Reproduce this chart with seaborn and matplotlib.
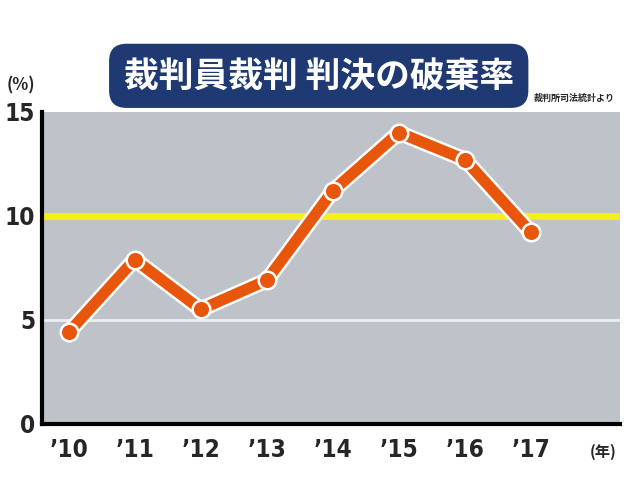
import matplotlib
matplotlib.use("Agg")
import matplotlib.pyplot as plt
import matplotlib.patheffects as pe
import seaborn as sns
import pandas as pd

years = ["’10", "’11", "’12", "’13", "’14", "’15", "’16", "’17"]
rates = [4.4, 7.9, 5.5, 6.9, 11.2, 14.0, 12.7, 9.2]
yticks = [0, 5, 10, 15]
title = "裁判員裁判 判決の破棄率"
source = "裁判所司法統計より"

sns.set_theme(style="white")
plt.rcParams["font.family"] = ["Noto Sans CJK JP", "DejaVu Sans"]

num_font = "DejaVu Sans"

df = pd.DataFrame({"x": range(len(years)), "rate": rates})

fig = plt.figure(figsize=(6.4, 4.8), dpi=100)
fig.patch.set_facecolor("white")
ax = fig.add_axes([0.066, 0.117, 0.903, 0.65])
ax.set_facecolor("#BEC2C9")

ax.axhline(5, color="#ECEEF2", lw=2, zorder=1)
ax.axhline(10, color="#F3F01C", lw=5, zorder=1)

orange = "#E8560C"
sns.lineplot(data=df, x="x", y="rate", ax=ax, color=orange, lw=8, zorder=3,
             solid_capstyle="round",
             path_effects=[pe.withStroke(linewidth=11.5, foreground="white")])
sns.scatterplot(data=df, x="x", y="rate", ax=ax, color=orange, s=160,
                edgecolor="white", linewidth=1.8, zorder=4)

ax.set_xlim(-0.4, 8.35)
ax.set_ylim(0, 15)
ax.set_xticks(range(len(years)))
ax.set_xticklabels(years, fontsize=17.5, fontweight="bold", family=num_font,
                   fontstretch="condensed")
ax.set_yticks(yticks)
ax.set_yticklabels([str(v) for v in yticks], fontsize=17.5, fontweight="bold",
                   family=num_font, fontstretch="condensed")
ax.tick_params(axis="x", direction="in", length=7, width=2, color="black", pad=10)
ax.tick_params(axis="y", length=0, pad=5)
ax.set_xlabel("")
ax.set_ylabel("")
for s in ["top", "right"]:
    ax.spines[s].set_visible(False)
for s in ["left", "bottom"]:
    ax.spines[s].set_color("black")
    ax.spines[s].set_linewidth(3)

fig.text(0.498, 0.842, title, color="white", fontsize=25, fontweight="bold",
         ha="center", va="center",
         bbox=dict(boxstyle="round,pad=0.42,rounding_size=0.5", fc="#1F3A72", ec="none"))
fig.text(0.834, 0.795, source, fontsize=6.5, fontweight="bold", ha="left", va="center")
fig.text(0.032, 0.822, "(%)", fontsize=12, fontweight="bold", ha="center", va="center")
fig.text(0.942, 0.058, "(年)", fontsize=11, fontweight="bold", ha="center", va="center")

fig.savefig("out.png", dpi=100, facecolor="white")
